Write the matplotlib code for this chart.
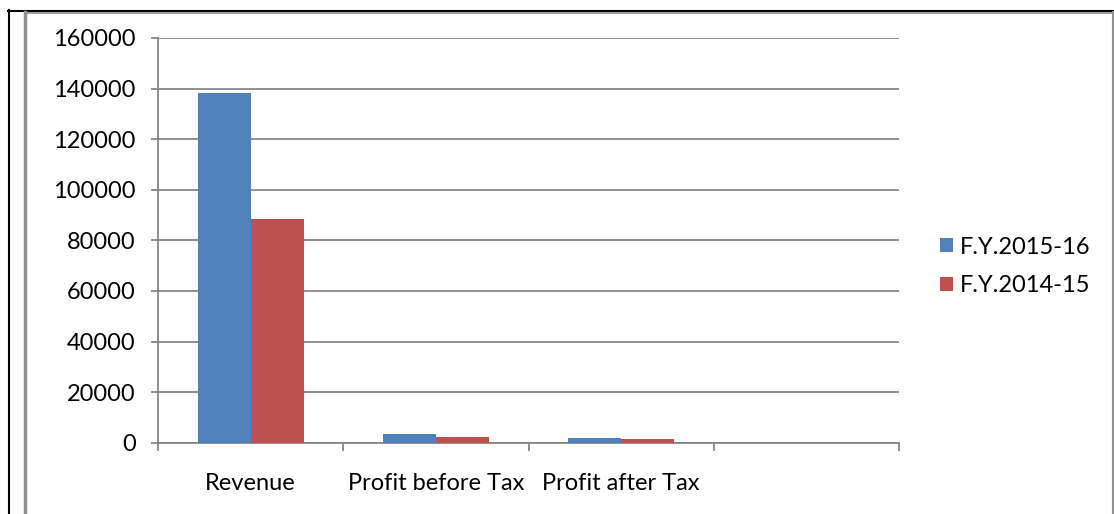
import numpy as np
import matplotlib
matplotlib.use("Agg")
import matplotlib.pyplot as plt
from matplotlib.lines import Line2D

# data
categories = ["Revenue", "Profit before Tax", "Profit after Tax", ""]
fy_2015_16 = [138200, 3300, 1700, 0]
fy_2014_15 = [88400, 2100, 1600, 0]
series_names = ["F.Y.2015-16", "F.Y.2014-15"]
y_ticks = [0, 20000, 40000, 60000, 80000, 100000, 120000, 140000, 160000]

W, H = 1114, 514
plt.rcParams["font.family"] = ["Lato", "DejaVu Sans"]
fs = 17

fig = plt.figure(figsize=(W / 100, H / 100), dpi=100)
ax = fig.add_axes([158 / W, 1 - 442.7 / H, (899 - 158) / W, (442.7 - 38) / H])

grey = "#868686"
blue = "#4F81BD"
red = "#C0504D"
bw = 1 / 3.5
x = np.arange(len(categories))
ax.bar(x - bw / 2, fy_2015_16, width=bw, color=blue, label=series_names[0], zorder=3)
ax.bar(x + bw / 2, fy_2014_15, width=bw, color=red, label=series_names[1], zorder=3)

ax.set_xlim(-0.5, len(categories) - 0.5)
ax.set_ylim(0, 160000)
ax.set_yticks(y_ticks)
ax.set_yticklabels([str(v) for v in y_ticks])
ax.yaxis.grid(True, color=grey, linewidth=1.3, zorder=0)

# tick marks at category boundaries, labels at centres
ax.set_xticks(np.arange(len(categories) + 1) - 0.5)
ax.set_xticklabels([])
ax.set_xticks(x, minor=True)
ax.set_xticklabels(categories, minor=True)
ax.tick_params(axis="x", which="major", length=5.5, width=1.3, color=grey, direction="out")
ax.tick_params(axis="x", which="minor", length=0, pad=22, labelsize=fs)
ax.tick_params(axis="y", length=5, width=1.3, color=grey, pad=11, labelsize=fs)

for s in ["top", "right"]:
    ax.spines[s].set_visible(False)
for s in ["left", "bottom"]:
    ax.spines[s].set_color(grey)
    ax.spines[s].set_linewidth(1.3)

fig.legend(loc="center left", bbox_to_anchor=(940 / W, 1 - 266.5 / H), frameon=False,
           fontsize=fs, handlelength=0.55, handleheight=0.55, handletextpad=0.3,
           labelspacing=0.75, borderpad=0, borderaxespad=0)

# outer frame of the screenshot
def px_line(xs, ys, color, lw):
    fig.add_artist(Line2D([v / W for v in xs], [1 - v / H for v in ys],
                          transform=fig.transFigure, color=color, linewidth=lw))

px_line([8, W], [10.5, 10.5], "black", 1.5)
px_line([8.5, 8.5], [10, H], "black", 1.5)
px_line([25, 1113], [12.5, 12.5], "#A0A0A0", 1.5)
px_line([24.5, 24.5], [12, H], "#909090", 2.5)
px_line([1113, 1113], [12, H], "#909090", 1.5)

fig.savefig("out.png", dpi=100)
